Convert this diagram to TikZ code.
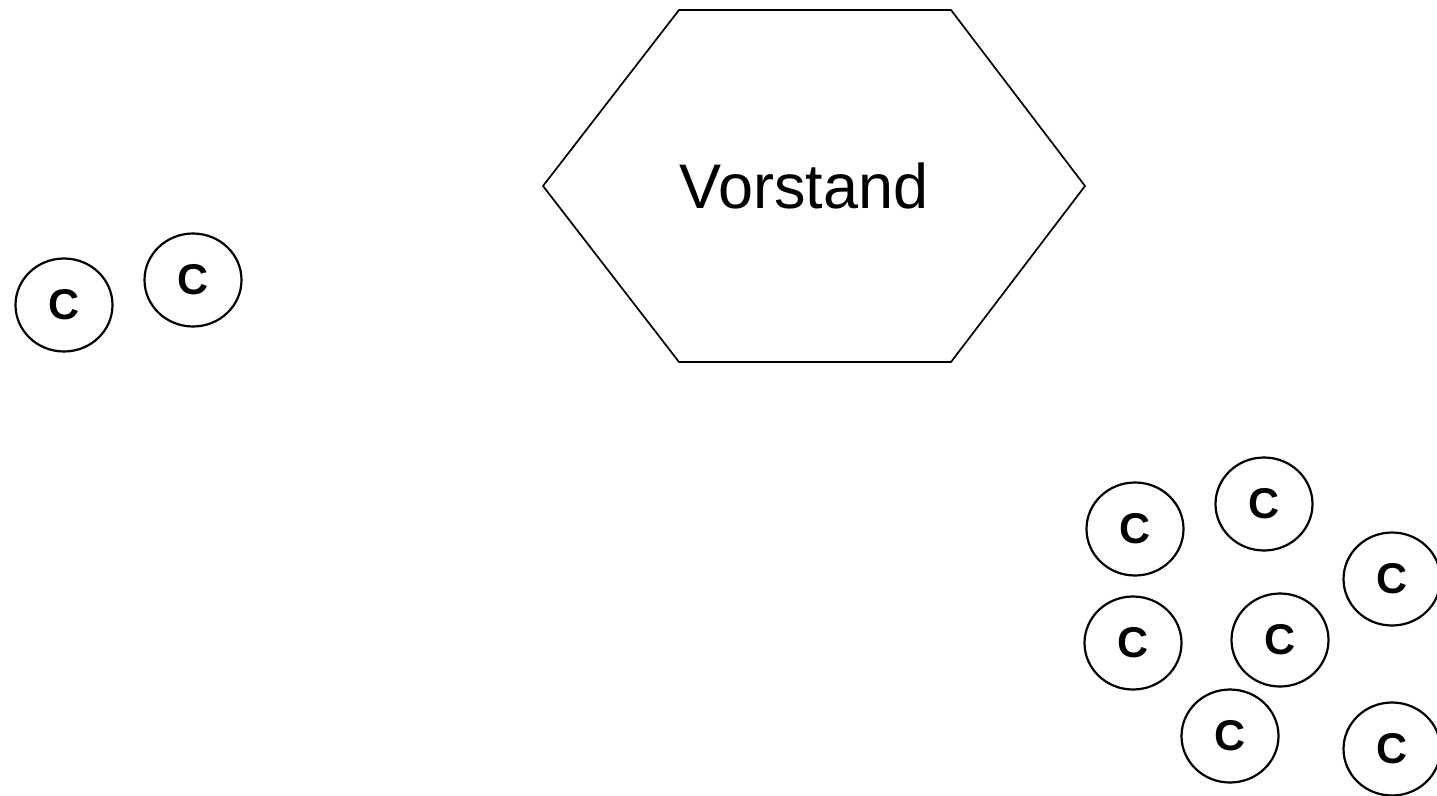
\documentclass[tikz,border=0pt]{standalone}
\usepackage{fontspec}
\setmainfont{Liberation Sans}
\usetikzlibrary{shapes.geometric}
\begin{document}
\begin{tikzpicture}[x=1pt,y=-1pt,
  cnode/.style={draw,line width=2.2pt,ellipse,minimum width=97pt,minimum height=93pt,inner sep=0pt,
    font=\fontsize{43}{43}\selectfont\bfseries},
  hexline/.style={draw,line width=1.7pt,line join=miter}]
\useasboundingbox (0,0) rectangle (1437,795);
% hexagon
\coordinate (h1) at (679,10);
\coordinate (h2) at (951,10);
\coordinate (h3) at (1085,186);
\coordinate (h4) at (951,362);
\coordinate (h5) at (679,362);
\coordinate (h6) at (543,186);
\draw[hexline] (h1) -- (h2) -- (h3) -- (h4) -- (h5) -- (h6) -- cycle;
\node[font=\fontsize{63}{63}\selectfont] (vorstand) at (804,186) {Vorstand};
% circles
\node[cnode] (c1) at (64,305) {C};
\node[cnode] (c2) at (193,280) {C};
\node[cnode] (c3) at (1135,529) {C};
\node[cnode] (c4) at (1264,504) {C};
\node[cnode] (c5) at (1392,579) {C};
\node[cnode] (c6) at (1133,643) {C};
\node[cnode] (c7) at (1280,640) {C};
\node[cnode] (c8) at (1230,736) {C};
\node[cnode] (c9) at (1392,749) {C};
\end{tikzpicture}
\end{document}
